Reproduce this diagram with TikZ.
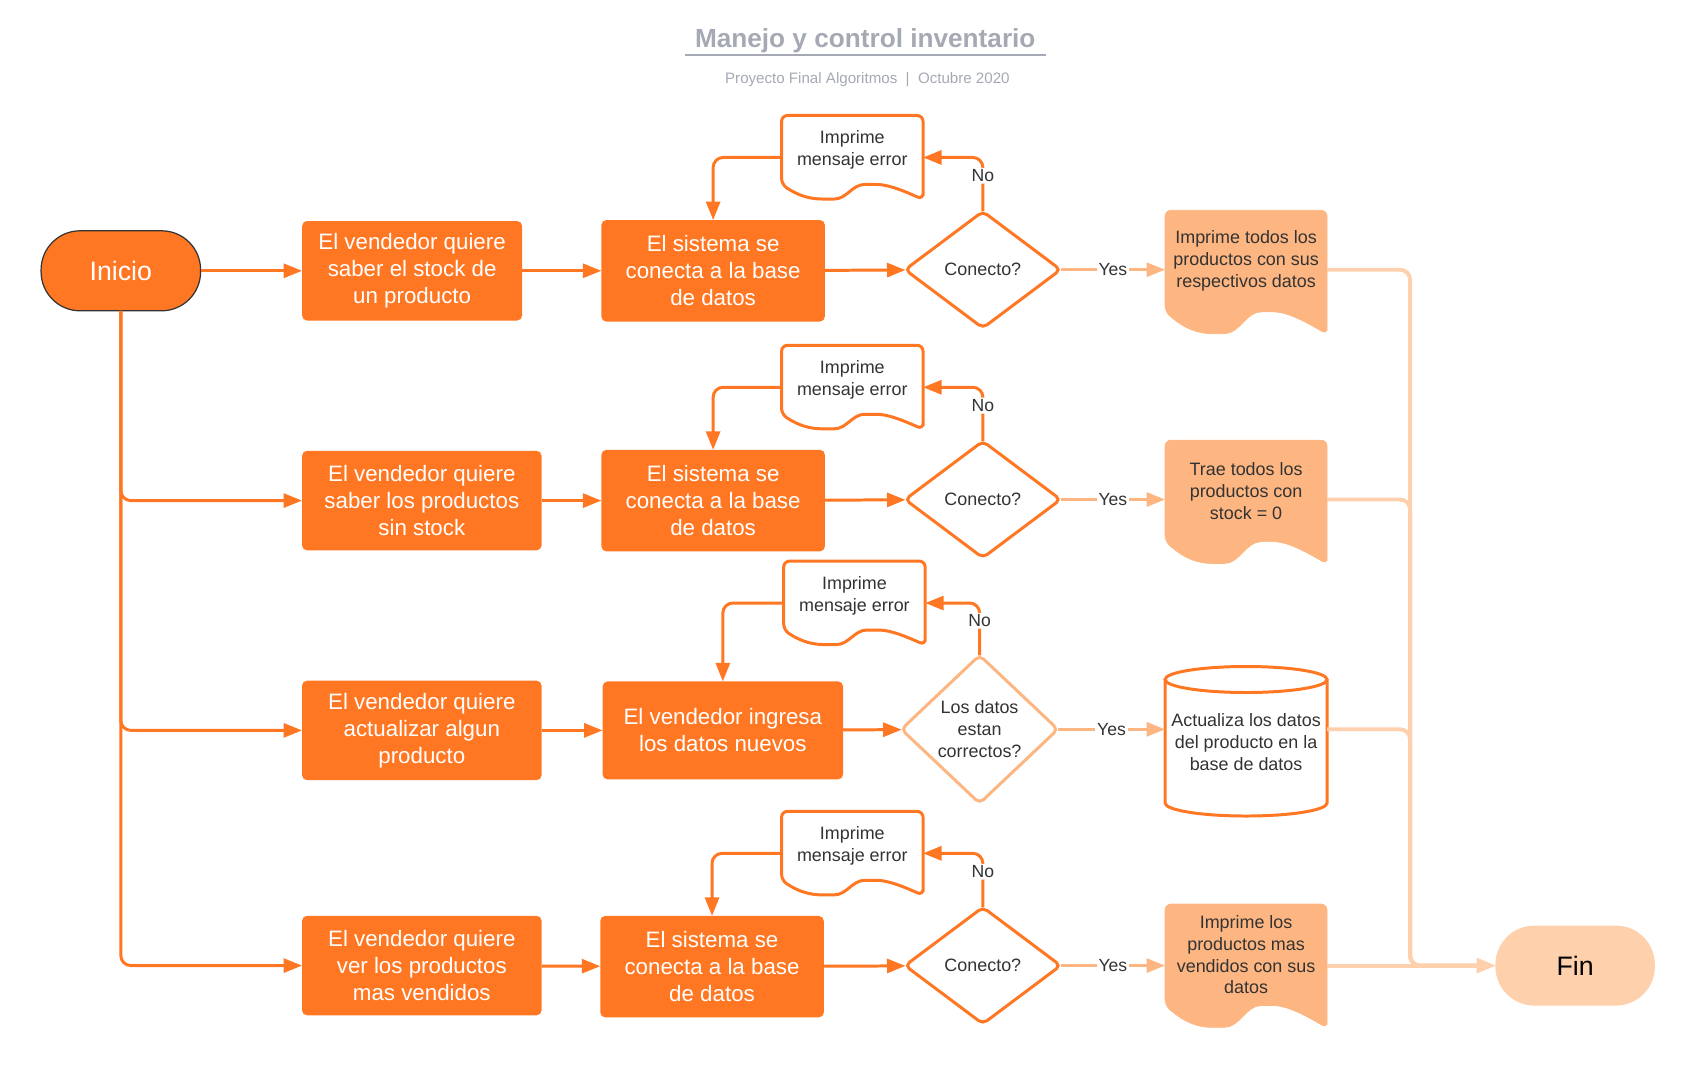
\documentclass[tikz,border=0pt]{standalone}
\usepackage{fontspec}
\setmainfont{Liberation Sans}
\usetikzlibrary{arrows.meta,positioning,shapes,calc,backgrounds}

\definecolor{naranja}{HTML}{FF7722}
\definecolor{claro}{HTML}{FDB681}
\definecolor{palido}{HTML}{FFD0AE}
\definecolor{finc}{HTML}{FFD0AC}
\definecolor{gris}{HTML}{A4A9B3}
\definecolor{texto}{HTML}{333333}

% hoja con borde ondulado: nodo, ancho (cm), caida (cm), estilo
\newcommand{\hojaonda}[4]{%
  \draw[#4] ([yshift=-#3cm]#1.south east) -- (#1.north east) -- (#1.north west) -- (#1.south west)
    .. controls ([shift={(0.12*#2cm,-0.75*#3cm)}]#1.south west) and ([shift={(0.2*#2cm,-0.97*#3cm)}]#1.south west)
    .. ([shift={(0.33*#2cm,-0.97*#3cm)}]#1.south west)
    .. controls ([shift={(0.46*#2cm,-0.97*#3cm)}]#1.south west) and ([shift={(0.5*#2cm,0cm)}]#1.south west)
    .. ([shift={(0.63*#2cm,0cm)}]#1.south west)
    .. controls ([shift={(0.76*#2cm,0cm)}]#1.south west) and ([shift={(0.88*#2cm,-0.5*#3cm)}]#1.south west)
    .. ([yshift=-#3cm]#1.south east) -- cycle;}

\tikzset{
  paso/.style={rectangle, rounded corners=0.1cm, fill=naranja, text=white, align=center,
    font=\fontsize{12.7}{15.3}\selectfont, inner sep=0pt, outer sep=0pt},
  extremo/.style={rectangle, rounded corners=0.78cm, minimum width=3.19cm, minimum height=1.6cm,
    font=\fontsize{15.2}{18}\selectfont, inner sep=0pt, outer sep=0pt},
  decision/.style={diamond, draw=naranja, line width=1.7pt, rounded corners=3pt, fill=white,
    text=texto, align=center, font=\fontsize{10.2}{12.4}\selectfont, inner sep=0pt, outer sep=0pt},
  hoja/.style={rectangle, align=center, text=texto, font=\fontsize{10.2}{12.4}\selectfont,
    inner sep=0pt, outer sep=0pt},
  flecha/.style={draw=naranja, line width=1.7pt, rounded corners=0.2cm,
    -{Triangle[length=0.37cm,width=0.28cm]}},
  flechasi/.style={draw=claro, line width=1.7pt, -{Triangle[length=0.37cm,width=0.28cm]}},
  flechafin/.style={draw=palido, line width=2.2pt, rounded corners=0.2cm,
    -{Triangle[length=0.37cm,width=0.28cm]}},
  etiqueta/.style={fill=white, text=texto, font=\fontsize{10}{12}\selectfont, inner sep=1pt}
}

\begin{document}
\begin{tikzpicture}[x=0.021577cm,y=-0.021577cm]

  \useasboundingbox (0,0) rectangle (1560,997.4);

  % titulo
  \node[font=\bfseries\fontsize{14.9}{18}\selectfont, text=gris, minimum width=7.21cm, inner ysep=1pt] (titulo) at (802,38) {Manejo y control inventario};
  \draw[gris, line width=1.3pt] (titulo.south west) -- (titulo.south east);
  \node[font=\fontsize{8.6}{10}\selectfont, text=gris] (sub) at (804,74) {Proyecto Final Algoritmos~~|~~Octubre 2020};

  % inicio y fin
  \node[extremo, fill=naranja, draw=texto, line width=0.7pt, text=white] (inicio) at (112,251) {Inicio};
  \node[extremo, fill=finc, text=black] (fin) at (1460,895) {Fin};

  % fila 1
  \node[paso, minimum width=4.40cm, minimum height=1.99cm] (v1) at (382,251) {El vendedor quiere\\saber el stock de\\un producto};
  \node[paso, minimum width=4.47cm, minimum height=2.03cm] (s1) at (661,251) {El sistema se\\conecta a la base\\de datos};
  \node[decision, minimum width=3.11cm, minimum height=2.33cm] (d1) at (911,250) {Conecto?};
  \node[hoja, minimum width=2.83cm, minimum height=1.38cm] (e1) at (790,139) {Imprime\\mensaje error};
  \node[hoja, minimum width=3.24cm, minimum height=2.03cm] (o1) at (1155,242) {Imprime todos los\\productos con sus\\respectivos datos};

  % fila 2
  \node[paso, minimum width=4.79cm, minimum height=1.99cm] (v2) at (391,464) {El vendedor quiere\\saber los productos\\sin stock};
  \node[paso, minimum width=4.47cm, minimum height=2.03cm] (s2) at (661,464) {El sistema se\\conecta a la base\\de datos};
  \node[decision, minimum width=3.11cm, minimum height=2.33cm] (d2) at (911,463) {Conecto?};
  \node[hoja, minimum width=2.83cm, minimum height=1.38cm] (e2) at (790,352) {Imprime\\mensaje error};
  \node[hoja, minimum width=3.24cm, minimum height=2.03cm] (o2) at (1155,455) {Trae todos los\\productos con\\stock = 0};

  % fila 3
  \node[paso, minimum width=4.79cm, minimum height=1.99cm] (v3) at (391,677) {El vendedor quiere\\actualizar algun\\producto};
  \node[paso, minimum width=4.81cm, minimum height=1.96cm] (s3) at (670,677) {El vendedor ingresa\\los datos nuevos};
  \node[decision, draw=claro, minimum width=3.13cm, minimum height=2.96cm] (d3) at (908,676) {Los datos\\estan\\correctos?};
  \node[hoja, minimum width=2.83cm, minimum height=1.38cm] (e3) at (792,552) {Imprime\\mensaje error};
  \node[hoja, minimum width=3.24cm, minimum height=1.99cm] (cil) at (1155,688) {Actualiza los datos\\del producto en la\\base de datos};

  % fila 4
  \node[paso, minimum width=4.79cm, minimum height=1.99cm] (v4) at (391,895) {El vendedor quiere\\ver los productos\\mas vendidos};
  \node[paso, minimum width=4.47cm, minimum height=2.03cm] (s4) at (660,896) {El sistema se\\conecta a la base\\de datos};
  \node[decision, minimum width=3.11cm, minimum height=2.33cm] (d4) at (911,895) {Conecto?};
  \node[hoja, minimum width=2.83cm, minimum height=1.38cm] (e4) at (790,784) {Imprime\\mensaje error};
  \node[hoja, minimum width=3.24cm, minimum height=2.03cm] (o4) at (1155,885) {Imprime los\\productos mas\\vendidos con sus\\datos};

  % hojas y cilindro, detras del texto
  \begin{scope}[on background layer]
    \foreach \e in {e1,e2,e3,e4}
      \hojaonda{\e}{2.83}{0.30}{naranja, line width=1.7pt, fill=white, rounded corners=0.12cm};
    \foreach \o in {o1,o2,o4}
      \hojaonda{\o}{3.24}{0.45}{claro, fill=claro, rounded corners=0.12cm};
    \draw[naranja, line width=1.7pt, fill=white] ([yshift=0.26cm]cil.north west) -- ([yshift=-0.22cm]cil.south west)
      arc[start angle=180, end angle=360, x radius=1.62cm, y radius=0.26cm] -- ([yshift=0.26cm]cil.north east);
    \draw[naranja, line width=1.7pt] ([yshift=0.26cm]cil.north) ellipse[x radius=1.62cm, y radius=0.26cm];
  \end{scope}

  % conexiones
  \draw[flecha] (inicio) -- (v1);
  \draw[flecha] (inicio.south) |- (v2.west);
  \draw[flecha] (inicio.south) |- (v3.west);
  \draw[flecha] (inicio.south) |- (v4.west);

  \foreach \v/\s/\d in {v1/s1/d1, v2/s2/d2, v3/s3/d3, v4/s4/d4} {
    \draw[flecha] (\v) -- (\s);
    \draw[flecha] (\s) -- (\d);
  }

  \foreach \d/\e/\s in {d1/e1/s1, d2/e2/s2, d3/e3/s3, d4/e4/s4} {
    \draw[flecha] (\d.north) |- node[etiqueta, pos=0.33] {No} ([yshift=-0.15cm]\e.east);
    \draw[flecha] ([yshift=-0.15cm]\e.west) -| (\s.north);
  }

  \draw[flechasi] (d1.east) -- node[etiqueta] {Yes} (d1 -| o1.west);
  \draw[flechasi] (d2.east) -- node[etiqueta] {Yes} (d2 -| o2.west);
  \draw[flechasi] (d3.east) -- node[etiqueta] {Yes} (d3 -| cil.west);
  \draw[flechasi] (d4.east) -- node[etiqueta] {Yes} (d4 -| o4.west);

  \coordinate (bus) at (1307,895);
  \draw[flechafin] (o1.east |- d1) -| (bus) -- (fin.west);
  \draw[flechafin] (o2.east |- d2) -| (bus) -- (fin.west);
  \draw[flechafin] (cil.east |- d3) -| (bus) -- (fin.west);
  \draw[flechafin] (o4.east |- d4) -- (fin.west);

\end{tikzpicture}
\end{document}
